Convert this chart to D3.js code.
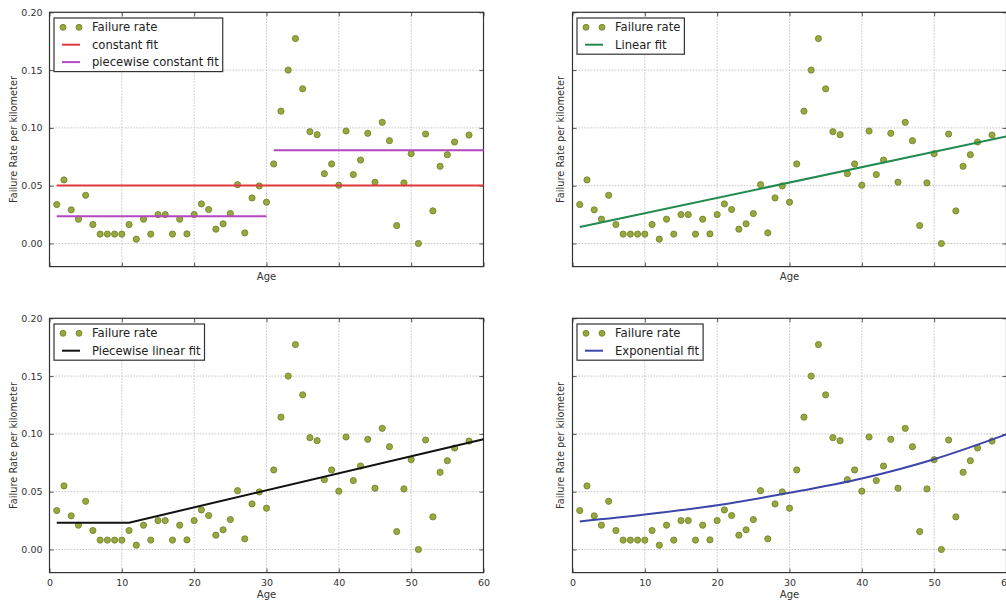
<!DOCTYPE html>
<html>
<head>
<meta charset="utf-8">
<script src="https://cdn.jsdelivr.net/npm/d3@7"></script>
<style>
    body { margin: 0; background: #fff; }
    svg { display: block; font-family: "DejaVu Sans", sans-serif; }
</style>
</head>
<body>
<div id="failure-chart"></div>
<script>
// data
var ages = [1, 2, 3, 4, 5, 6, 7, 8, 9, 10, 11, 12, 13, 14, 15, 16, 17, 18, 19, 20,
    21, 22, 23, 24, 25, 26, 27, 28, 29, 30, 31, 32, 33, 34, 35, 36, 37, 38, 39, 40,
    41, 42, 43, 44, 45, 46, 47, 48, 49, 50, 51, 52, 53, 54, 55, 56, 58];
var failureRates = [0.0337, 0.0550, 0.0291, 0.0210, 0.0417, 0.0164, 0.0081, 0.0081, 0.0081, 0.0081,
    0.0164, 0.0037, 0.0210, 0.0081, 0.0250, 0.0250, 0.0081, 0.0210, 0.0083, 0.0250,
    0.0342, 0.0294, 0.0124, 0.0170, 0.0259, 0.0509, 0.0092, 0.0394, 0.0498, 0.0357,
    0.0688, 0.1145, 0.1500, 0.1773, 0.1338, 0.0967, 0.0941, 0.0604, 0.0688, 0.0504,
    0.0973, 0.0596, 0.0722, 0.0953, 0.0530, 0.1048, 0.0889, 0.0155, 0.0524, 0.0777,
    0.0000, 0.0947, 0.0282, 0.0668, 0.0768, 0.0878, 0.0938];

var constantFit = [[1, 0.0502], [60, 0.0502]];
var piecewiseConstantLow = [[1, 0.0235], [30, 0.0235]];
var piecewiseConstantHigh = [[31, 0.0806], [60, 0.0806]];
var linearFit = [[1, 0.0142], [60, 0.0926]];
var piecewiseLinearFit = [[1, 0.0232], [11, 0.0232], [60, 0.0953]];
var exponentialFit = [[1, 0.0242], [10, 0.0302], [20, 0.0383], [30, 0.0490], [40, 0.0614], [50, 0.0781], [60, 0.0996]];

var xTicks = [0, 10, 20, 30, 40, 50, 60];
var yTicks = [0, 0.05, 0.10, 0.15, 0.20];

(function(d3) {
    "use strict";

    var chartWidth = 1006;
    var chartHeight = 604;
    var plotWidth = 434;
    var plotHeight = 254.3;
    var pointColor = "#98a83f";
    var pointEdge = "#6e7c26";

    var panels = [
        {
            left: 49.5, top: 12.3, showXTicks: false, showYTicks: true,
            fits: [
                { label: "constant fit", color: "#e0393e", parts: [constantFit] },
                { label: "piecewise constant fit", color: "#b347c0", parts: [piecewiseConstantLow, piecewiseConstantHigh] }
            ]
        },
        {
            left: 572.5, top: 12.3, showXTicks: false, showYTicks: false,
            fits: [
                { label: "Linear fit", color: "#238a4f", parts: [linearFit] }
            ]
        },
        {
            left: 49.5, top: 318.3, showXTicks: true, showYTicks: true,
            fits: [
                { label: "Piecewise linear fit", color: "#111111", parts: [piecewiseLinearFit] }
            ]
        },
        {
            left: 572.5, top: 318.3, showXTicks: true, showYTicks: false,
            fits: [
                { label: "Exponential fit", color: "#3b46a8", parts: [exponentialFit], smooth: true }
            ]
        }
    ];

    var svgContainer = d3
        .select("#failure-chart")
        .append("svg")
        .attr("width", chartWidth)
        .attr("height", chartHeight);

    var xScale = d3.scaleLinear().domain([0, 60]).range([0, plotWidth]);
    var yScale = d3.scaleLinear().domain([-0.02, 0.20]).range([plotHeight, 0]);

    var points = ages.map(function(age, i) {
        return [age, failureRates[i]];
    });

    panels.forEach(function(panel) {
        var g = svgContainer
            .append("g")
            .attr("transform", "translate(" + panel.left + "," + panel.top + ")");

        // grid
        g.append("g")
            .selectAll("line")
            .data(xTicks.slice(1, -1))
            .enter()
            .append("line")
            .attr("x1", function(d) { return xScale(d); })
            .attr("x2", function(d) { return xScale(d); })
            .attr("y1", 0)
            .attr("y2", plotHeight)
            .attr("stroke", "#c4c4c4")
            .attr("stroke-width", 1)
            .attr("stroke-dasharray", "1.5,1.5");
        g.append("g")
            .selectAll("line")
            .data(yTicks)
            .enter()
            .append("line")
            .attr("y1", function(d) { return yScale(d); })
            .attr("y2", function(d) { return yScale(d); })
            .attr("x1", 0)
            .attr("x2", plotWidth)
            .attr("stroke", "#c4c4c4")
            .attr("stroke-width", 1)
            .attr("stroke-dasharray", "1.5,1.5");

        // axes: inward ticks on every side
        var xBottom = d3.axisBottom(xScale).tickValues(xTicks).tickSize(-4).tickPadding(7)
            .tickFormat(panel.showXTicks ? d3.format("d") : function() { return ""; });
        var xTop = d3.axisTop(xScale).tickValues(xTicks).tickSize(-4).tickFormat(function() { return ""; });
        var yLeft = d3.axisLeft(yScale).tickValues(yTicks).tickSize(-4).tickPadding(7)
            .tickFormat(panel.showYTicks ? d3.format(".2f") : function() { return ""; });
        var yRight = d3.axisRight(yScale).tickValues(yTicks).tickSize(-4).tickFormat(function() { return ""; });

        [
            g.append("g").attr("transform", "translate(0," + plotHeight + ")").call(xBottom),
            g.append("g").call(xTop),
            g.append("g").call(yLeft),
            g.append("g").attr("transform", "translate(" + plotWidth + ",0)").call(yRight)
        ].forEach(function(axis) {
            axis.select(".domain").remove();
            axis.selectAll(".tick line").attr("stroke", "#555");
            axis.selectAll("text")
                .attr("fill", "#333")
                .style("font-size", "9.5px")
                .style("font-family", "\"DejaVu Sans\", sans-serif");
        });

        g.append("rect")
            .attr("width", plotWidth)
            .attr("height", plotHeight)
            .attr("fill", "none")
            .attr("stroke", "#333")
            .attr("stroke-width", 1.2);

        // data points
        g.append("g")
            .selectAll("circle")
            .data(points)
            .enter()
            .append("circle")
            .attr("cx", function(d) { return xScale(d[0]); })
            .attr("cy", function(d) { return yScale(d[1]); })
            .attr("r", 3.1)
            .attr("fill", pointColor)
            .attr("stroke", pointEdge)
            .attr("stroke-width", 0.8);

        // fit lines
        panel.fits.forEach(function(fit) {
            var lineGen = d3.line()
                .x(function(d) { return xScale(d[0]); })
                .y(function(d) { return yScale(d[1]); })
                .curve(fit.smooth ? d3.curveMonotoneX : d3.curveLinear);
            fit.parts.forEach(function(part) {
                g.append("path")
                    .attr("d", lineGen(part))
                    .attr("fill", "none")
                    .attr("stroke", fit.color)
                    .attr("stroke-width", 2);
            });
        });

        // axis labels
        g.append("text")
            .attr("x", plotWidth / 2)
            .attr("y", panel.showXTicks ? plotHeight + 25 : plotHeight + 13)
            .attr("text-anchor", "middle")
            .attr("fill", "#333")
            .style("font-size", "10px")
            .text("Age");
        g.append("text")
            .attr("transform", "translate(" + (panel.showYTicks ? -32.5 : -8.5) + "," + (plotHeight / 2) + ") rotate(-90)")
            .attr("text-anchor", "middle")
            .attr("fill", "#333")
            .style("font-size", "9.8px")
            .text("Failure Rate per kilometer");

        // legend
        var rows = [{ label: "Failure rate", type: "points" }].concat(panel.fits.map(function(fit) {
            return { label: fit.label, type: "line", color: fit.color };
        }));
        var legend = g.append("g").attr("transform", "translate(4.5,5.7)");
        var box = legend.append("rect")
            .attr("fill", "#fff")
            .attr("stroke", "#333")
            .attr("stroke-width", 1.2);
        var maxTextWidth = 0;
        rows.forEach(function(row, i) {
            var cy = 9.3 + i * 17.4;
            if (row.type === "points") {
                [9, 25].forEach(function(cx) {
                    legend.append("circle")
                        .attr("cx", cx)
                        .attr("cy", cy)
                        .attr("r", 3)
                        .attr("fill", pointColor)
                        .attr("stroke", pointEdge)
                        .attr("stroke-width", 0.8);
                });
            } else {
                legend.append("line")
                    .attr("x1", 8)
                    .attr("x2", 26)
                    .attr("y1", cy)
                    .attr("y2", cy)
                    .attr("stroke", row.color)
                    .attr("stroke-width", 2);
            }
            var label = legend.append("text")
                .attr("x", 38)
                .attr("y", cy + 4)
                .attr("fill", "#222")
                .style("font-size", "11.6px")
                .text(row.label);
            maxTextWidth = Math.max(maxTextWidth, label.node().getComputedTextLength());
        });
        box.attr("width", 38 + maxTextWidth + 4)
            .attr("height", 9.3 + (rows.length - 1) * 17.4 + 9.5);
    });
})(window.d3);
</script>
</body>
</html>
